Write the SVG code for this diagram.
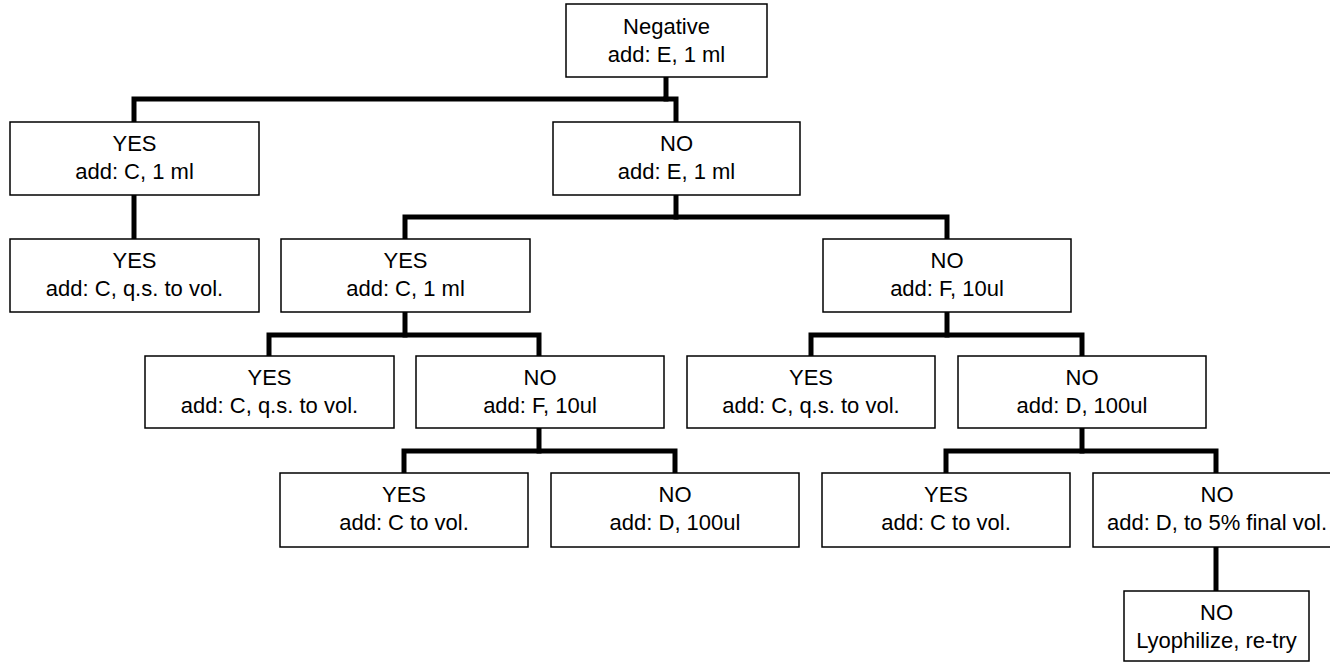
<svg xmlns="http://www.w3.org/2000/svg" width="1330" height="663" viewBox="0 0 1330 663">
  <style>
    .box { fill: #ffffff; stroke: #000000; stroke-width: 1.5; }
    .lbl { font-family: "Liberation Sans", Arial, sans-serif; font-size: 22px; fill: #000000; text-anchor: middle; }
    .wire { fill: none; stroke: #000000; stroke-width: 5; stroke-linejoin: miter; stroke-linecap: square; }
  </style>
  <rect width="1330" height="663" fill="#ffffff"/>

  <!-- connectors -->
  <g id="connectors">
    <polyline class="wire" points="666,77 666,99 134,99 134,122"/>
    <polyline class="wire" points="666,99 676,99 676,122"/>
    <line class="wire" x1="134" y1="195" x2="134" y2="239"/>
    <polyline class="wire" points="405,239 405,217 947,217 947,239"/>
    <line class="wire" x1="676" y1="195" x2="676" y2="217"/>
    <polyline class="wire" points="269,356 269,335 539,335 539,356"/>
    <line class="wire" x1="405" y1="312" x2="405" y2="335"/>
    <polyline class="wire" points="811,356 811,335 1082,335 1082,356"/>
    <line class="wire" x1="947" y1="312" x2="947" y2="335"/>
    <polyline class="wire" points="404,473 404,451 675,451 675,473"/>
    <line class="wire" x1="539" y1="428" x2="539" y2="451"/>
    <polyline class="wire" points="946,473 946,451 1216,451 1216,473"/>
    <line class="wire" x1="1082" y1="428" x2="1082" y2="451"/>
    <line class="wire" x1="1216" y1="547" x2="1216" y2="591"/>
  </g>

  <!-- level 0 -->
  <g id="n-root">
    <rect class="box" x="566" y="4" width="201" height="73"/>
    <text class="lbl" x="666.5" y="34">Negative</text>
    <text class="lbl" x="666.5" y="62">add: E, 1 ml</text>
  </g>

  <!-- level 1 -->
  <g id="n-yes-1">
    <rect class="box" x="10" y="122" width="249" height="73"/>
    <text class="lbl" x="134.5" y="151">YES</text>
    <text class="lbl" x="134.5" y="179">add: C, 1 ml</text>
  </g>
  <g id="n-no-1">
    <rect class="box" x="553" y="122" width="247" height="73"/>
    <text class="lbl" x="676.5" y="151">NO</text>
    <text class="lbl" x="676.5" y="179">add: E, 1 ml</text>
  </g>

  <!-- level 2 -->
  <g id="n-yes-1-yes">
    <rect class="box" x="10" y="239" width="249" height="73"/>
    <text class="lbl" x="134.5" y="268">YES</text>
    <text class="lbl" x="134.5" y="296">add: C, q.s. to vol.</text>
  </g>
  <g id="n-no-1-yes">
    <rect class="box" x="281" y="239" width="249" height="73"/>
    <text class="lbl" x="405.5" y="268">YES</text>
    <text class="lbl" x="405.5" y="296">add: C, 1 ml</text>
  </g>
  <g id="n-no-1-no">
    <rect class="box" x="823" y="239" width="248" height="73"/>
    <text class="lbl" x="947" y="268">NO</text>
    <text class="lbl" x="947" y="296">add: F, 10ul</text>
  </g>

  <!-- level 3 -->
  <g id="n-no-1-yes-yes">
    <rect class="box" x="145" y="356" width="249" height="72"/>
    <text class="lbl" x="269.5" y="385">YES</text>
    <text class="lbl" x="269.5" y="413">add: C, q.s. to vol.</text>
  </g>
  <g id="n-no-1-yes-no">
    <rect class="box" x="416" y="356" width="248" height="72"/>
    <text class="lbl" x="540" y="385">NO</text>
    <text class="lbl" x="540" y="413">add: F, 10ul</text>
  </g>
  <g id="n-no-1-no-yes">
    <rect class="box" x="687" y="356" width="248" height="72"/>
    <text class="lbl" x="811" y="385">YES</text>
    <text class="lbl" x="811" y="413">add: C, q.s. to vol.</text>
  </g>
  <g id="n-no-1-no-no">
    <rect class="box" x="958" y="356" width="248" height="72"/>
    <text class="lbl" x="1082" y="385">NO</text>
    <text class="lbl" x="1082" y="413">add: D, 100ul</text>
  </g>

  <!-- level 4 -->
  <g id="n-f-yes">
    <rect class="box" x="280" y="473" width="248" height="74"/>
    <text class="lbl" x="404" y="502">YES</text>
    <text class="lbl" x="404" y="530">add: C to vol.</text>
  </g>
  <g id="n-f-no">
    <rect class="box" x="551" y="473" width="248" height="74"/>
    <text class="lbl" x="675" y="502">NO</text>
    <text class="lbl" x="675" y="530">add: D, 100ul</text>
  </g>
  <g id="n-d-yes">
    <rect class="box" x="822" y="473" width="248" height="74"/>
    <text class="lbl" x="946" y="502">YES</text>
    <text class="lbl" x="946" y="530">add: C to vol.</text>
  </g>
  <g id="n-d-no">
    <rect class="box" x="1093" y="473" width="248" height="74"/>
    <text class="lbl" x="1217" y="502">NO</text>
    <text class="lbl" x="1217" y="530">add: D, to 5% final vol.</text>
  </g>

  <!-- level 5 -->
  <g id="n-lyophilize">
    <rect class="box" x="1124" y="591" width="185" height="70"/>
    <text class="lbl" x="1216.5" y="620">NO</text>
    <text class="lbl" x="1216.5" y="648">Lyophilize, re-try</text>
  </g>
</svg>
